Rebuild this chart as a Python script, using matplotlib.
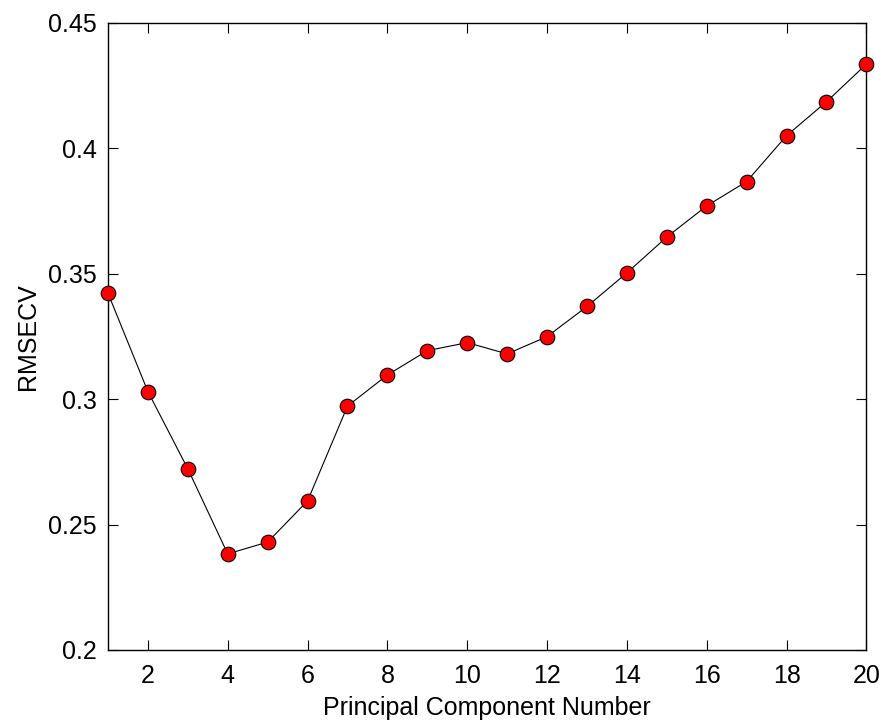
import matplotlib
matplotlib.use("Agg")
import matplotlib.pyplot as plt

pc_number = list(range(1, 21))
rmsecv = [0.3422, 0.3030, 0.2722, 0.2383, 0.2430, 0.2594, 0.2972, 0.3096,
          0.3193, 0.3225, 0.3180, 0.3249, 0.3369, 0.3503, 0.3646, 0.3770,
          0.3867, 0.4050, 0.4185, 0.4335]
xticks = [2, 4, 6, 8, 10, 12, 14, 16, 18, 20]
yticks = [0.2, 0.25, 0.3, 0.35, 0.4, 0.45]
ytick_labels = ["0.2", "0.25", "0.3", "0.35", "0.4", "0.45"]

plt.rcParams['font.family'] = ['Liberation Sans', 'DejaVu Sans']

fig = plt.figure(figsize=(8.85, 7.23), dpi=100)
ax = fig.add_axes([0.122, 0.101, 0.857, 0.8676])
ax.plot(pc_number, rmsecv, color='black', linewidth=0.8, marker='o',
        markersize=10.5, markerfacecolor='red', markeredgecolor='black',
        markeredgewidth=0.8, clip_on=False, zorder=3)
ax.set_xlim(1, 20)
ax.set_ylim(0.2, 0.45)
ax.set_xticks(xticks)
ax.set_xticklabels([str(t) for t in xticks])
ax.set_yticks(yticks)
ax.set_yticklabels(ytick_labels)
ax.tick_params(direction='in', length=7, width=0.8, top=True, right=True,
               labelsize=18, pad=8)
ax.tick_params(axis='x', pad=10)
for s in ax.spines.values():
    s.set_linewidth(1.0)
ax.set_xlabel('Principal Component Number', fontsize=18, labelpad=6)
ax.set_ylabel('RMSECV', fontsize=18, labelpad=6)
fig.savefig('out.png', dpi=100)
